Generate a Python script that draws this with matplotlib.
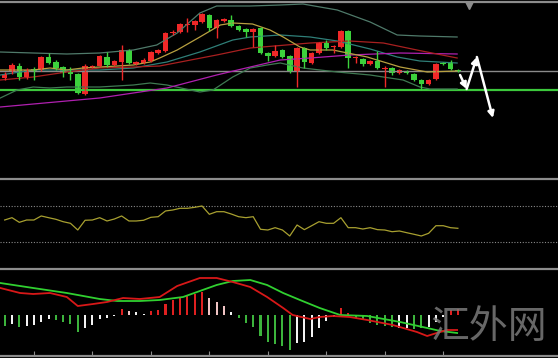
import matplotlib
matplotlib.use('Agg')
import matplotlib.pyplot as plt
from matplotlib.lines import Line2D
import numpy as np

# ---- price candles (arbitrary price units) ----
opens = [122, 128, 134, 123, 131, 130, 143, 138, 133, 128,
         126, 106, 133, 134, 143, 135, 138, 150, 136, 137,
         139, 147, 149, 167, 168, 175, 175, 178, 185, 172,
         179, 180, 174, 171, 168, 172, 147, 144, 150, 144,
         128, 152, 137, 147, 157, 153, 153, 169, 142, 141,
         136, 139, 131, 132, 127, 129, 126, 120, 116, 121,
         137, 137, 130]
closes = [126, 135, 123, 130, 129, 143, 137, 132, 127, 126,
          107, 134, 134, 144, 135, 139, 150, 137, 138, 140,
          148, 150, 167, 168, 176, 176, 179, 186, 172, 180,
          181, 174, 170, 168, 171, 147, 144, 149, 143, 128,
          152, 138, 147, 157, 152, 154, 169, 142, 143, 136,
          139, 132, 132, 127, 130, 127, 120, 116, 120, 136,
          136, 131, 129]
highs = [128, 137, 137, 132, 133, 144, 147, 140, 134, 133,
         127, 136, 135, 145, 148, 140, 155, 151, 139, 142,
         149, 151, 168, 170, 177, 182, 180, 187, 186, 181,
         182, 185, 175, 172, 172, 173, 148, 155, 151, 145,
         153, 153, 148, 158, 160, 155, 170, 170, 144, 142,
         140, 149, 134, 133, 131, 130, 127, 121, 121, 137,
         138, 140, 131]
lows = [120, 126, 120, 121, 120, 129, 136, 130, 123, 120,
        106, 105, 132, 133, 133, 134, 120, 136, 135, 136,
        138, 146, 148, 165, 167, 168, 170, 177, 169, 162,
        178, 173, 169, 163, 153, 146, 139, 143, 142, 127,
        113, 132, 136, 146, 150, 147, 152, 132, 137, 134,
        135, 131, 113, 125, 126, 126, 119, 110, 115, 120,
        135, 130, 128]

# overlays: (bar index, price) points
bb_up_x = [-0.6, 3.9, 8.5, 13.0, 17.6, 20.8, 23.6, 26.7, 29.0, 33.6, 37.7, 40.8, 45.5, 50.0, 53.7, 56.8, 61.9]
bb_up_y = [148, 147, 146, 147, 150, 155, 167, 187, 194, 194, 195, 196, 190, 178, 165, 164, 163]
bb_lo_x = [-0.6, 1.7, 3.9, 6.2, 8.5, 13.0, 17.6, 19.9, 22.2, 26.7, 28.5, 31.2, 33.6, 35.9, 37.7,
           40.8, 45.5, 50.0, 54.5, 56.8, 58.2, 61.9]
bb_lo_y = [102, 110, 113, 112, 113, 113, 115, 117, 115, 108, 110, 123, 132, 135, 137,
           132, 128, 125, 120, 113, 111, 111]
bb_mid_x = [-0.6, 3.9, 13.0, 17.6, 22.2, 26.7, 31.2, 33.6, 37.7, 41.8, 45.5, 50.0, 53.7, 56.8, 61.9]
bb_mid_y = [125, 130, 130, 132, 138, 148, 160, 163, 165, 163, 159, 151, 143, 139, 137]
ma_fast_x = [-0.6, 3.9, 6.2, 8.5, 10.7, 13.0, 15.4, 17.6, 19.9, 21.2, 23.6, 26.7, 29.5, 31.2, 33.9,
             36.3, 38.1, 40.4, 41.8, 44.9, 49.6, 54.1, 57.8, 61.9]
ma_fast_y = [130, 130, 132, 130, 132, 133, 134, 135, 138, 142, 150, 163, 175, 177, 176,
             170, 163, 153, 150, 150, 143, 133, 128, 129]
ma_mid_x = [-0.6, 3.9, 8.5, 13.0, 17.6, 21.2, 29.0, 33.6, 41.8, 47.2, 51.8, 56.4, 61.9]
ma_mid_y = [120, 123, 128, 132, 133, 134, 145, 152, 157, 159, 157, 150, 142]
ma_slow_x = [-0.6, 13.0, 22.2, 29.0, 33.6, 37.7, 41.8, 47.2, 54.1, 61.9]
ma_slow_y = [93, 102, 112, 125, 133, 140, 142, 145, 147, 146]

resistance = 129
support = 110
# hand drawn forecast arrows (bar index, price)
arrow_x = [62.3, 63.2, 64.6, 66.8]
arrow_y = [125, 111, 143, 82]

# ---- RSI ----
rsi = [54.3, 56.9, 51.7, 54.3, 54.3, 58.8, 56.9, 55.1, 52.4, 50.6,
       43.1, 54.0, 54.3, 56.9, 53.2, 55.4, 58.8, 53.2, 53.2, 54.0,
       57.3, 58.0, 64.4, 65.5, 67.4, 67.4, 68.5, 70.0, 60.7, 63.6,
       63.6, 61.0, 58.0, 56.9, 58.0, 43.9, 43.1, 45.7, 43.1, 36.4,
       48.7, 43.5, 47.9, 52.4, 50.6, 50.6, 56.9, 45.7, 45.7, 44.2,
       45.7, 43.5, 43.1, 41.2, 42.0, 40.1, 38.3, 36.4, 39.4, 47.9,
       47.9, 45.7, 45.0]

# ---- MACD ----
hist = [-11, -9, -12, -11, -10, -7, -4, -5, -7, -9,
        -17, -13, -10, -4, -3, -1, 6, 4, 3, 1.5,
        4, 5, 11, 15, 17, 19, 21, 23, 17, 13,
        9, 3, -3, -8, -12, -21, -27, -29, -31, -35,
        -28, -27, -22, -13, -6, -2, 7, 2, -3, -5,
        -8, -10, -11, -12, -13, -13, -14, -13, -12, -7,
        -2, 5, 6]
hist_col = list('gwgwwwwggg' 'gwwwwwrpww' 'rrrrrrrrpp' 'pwgggggggg'
                'wwwwwwrrgg' 'ggggwwggww' 'wrr')
sig_x = [-0.6, 3.9, 8.5, 13.0, 15.4, 18.5, 21.2, 24.4, 29.0, 31.2, 33.6, 35.9, 38.1, 40.4,
         43.1, 45.9, 49.6, 54.1, 57.8, 59.6, 61.9]
sig_y = [32, 27, 22, 16, 14, 14, 15, 18, 30, 34, 35, 30, 22, 15,
         7, 0, -1, -7, -13, -16, -18]
macd_x = [-0.6, 2.1, 3.9, 6.2, 8.5, 10.0, 12.1, 14.0, 16.2, 18.5, 21.2, 23.6, 26.7, 29.0, 31.2,
          33.6, 35.9, 38.1, 39.4, 41.8, 43.1, 44.9, 47.2, 49.6, 53.1, 56.4, 57.8, 59.1, 60.5, 61.9]
macd_y = [27, 22, 21, 22, 18, 9, 11, 13, 17, 16, 18, 29, 37, 37, 33,
          28, 18, 7, 0, -4, -2, -1, -2, -5, -10, -17, -21, -18, -15, -15]

RED = '#f02828'
GREEN = '#3cd23c'
hist_colors = {'g': '#3cb43c', 'w': '#f2f2f2', 'r': '#e02020', 'p': '#f0c4c4'}

W, H = 558, 358
fig = plt.figure(figsize=(W / 100, H / 100), dpi=100, facecolor='black')


def panel(top, bottom):
    ax = fig.add_axes([0, 1 - bottom / H, 1, (bottom - top) / H])
    ax.set_facecolor('black')
    for s in ax.spines.values():
        s.set_visible(False)
    ax.set_xticks([])
    ax.set_yticks([])
    ax.set_xlim(-0.64, 75.7)
    return ax


idx = np.arange(len(opens))

# price panel
ax1 = panel(3, 178)
ax1.set_ylim(22, 197)
ax1.axhline(resistance, color='#8a8a8a', lw=1)
ax1.axhline(support, color='#3cc83c', lw=1.6)
ax1.plot(bb_up_x, bb_up_y, color='#4f7a6a', lw=0.9)
ax1.plot(bb_lo_x, bb_lo_y, color='#3f7a52', lw=0.9)
ax1.plot(bb_mid_x, bb_mid_y, color='#2f7f78', lw=0.9)
ax1.plot(ma_slow_x, ma_slow_y, color='#b020b0', lw=0.9)
ax1.plot(ma_mid_x, ma_mid_y, color='#a82020', lw=0.9)
ax1.plot(ma_fast_x, ma_fast_y, color='#b8a040', lw=0.9)

o = np.array(opens)
c = np.array(closes)
up = c >= o
cols = [RED if u else GREEN for u in up]
ax1.vlines(idx, lows, highs, colors=cols, lw=1)
body = np.maximum(np.abs(c - o), 1.2)
ax1.bar(idx, body, bottom=np.minimum(o, c), width=0.76, color=cols, linewidth=0)

for i in range(len(arrow_x) - 1):
    ax1.annotate('', xy=(arrow_x[i + 1], arrow_y[i + 1]), xytext=(arrow_x[i], arrow_y[i]),
                 arrowprops=dict(arrowstyle='-|>', color='white', lw=1.8,
                                 mutation_scale=9, shrinkA=0, shrinkB=0))
ax1.plot(63.5, 195, marker='v', color='#8c8c8c', ms=6)

# RSI panel
ax2 = panel(179, 268)
ax2.set_ylim(0.56, 100.2)
for lvl in (70, 30):
    ax2.axhline(lvl, color='#8a8a8a', lw=0.8, ls=(0, (1, 1.5)))
ax2.plot(idx, rsi, color='#a8a030', lw=0.9)

# MACD panel
ax3 = panel(269, 355)
ax3.set_ylim(-40, 46)
ax3.bar(idx, hist, width=0.28, color=[hist_colors[k] for k in hist_col], linewidth=0)
ax3.plot(sig_x, sig_y, color='#30d030', lw=1.3)
ax3.plot(macd_x, macd_y, color='#d81818', lw=1.3)
ax3.set_xticks(range(4, 63, 8))
ax3.tick_params(axis='x', direction='in', length=3, color='#8c8c8c', labelbottom=False)

# panel separators
for yp in (1.5, 178.5, 268.5, 355.5):
    fig.add_artist(Line2D([0, 1], [1 - yp / H, 1 - yp / H], transform=fig.transFigure,
                          color='#8c8c8c', lw=1.6))

fig.text(489 / W, 1 - 327 / H, '汇外网', fontsize=28, color='#7a7a7a', alpha=0.85,
         weight='light', family=['Noto Sans CJK SC', 'DejaVu Sans'], ha='center', va='center')

plt.savefig('out.png', dpi=100, facecolor='black')
plt.close()
